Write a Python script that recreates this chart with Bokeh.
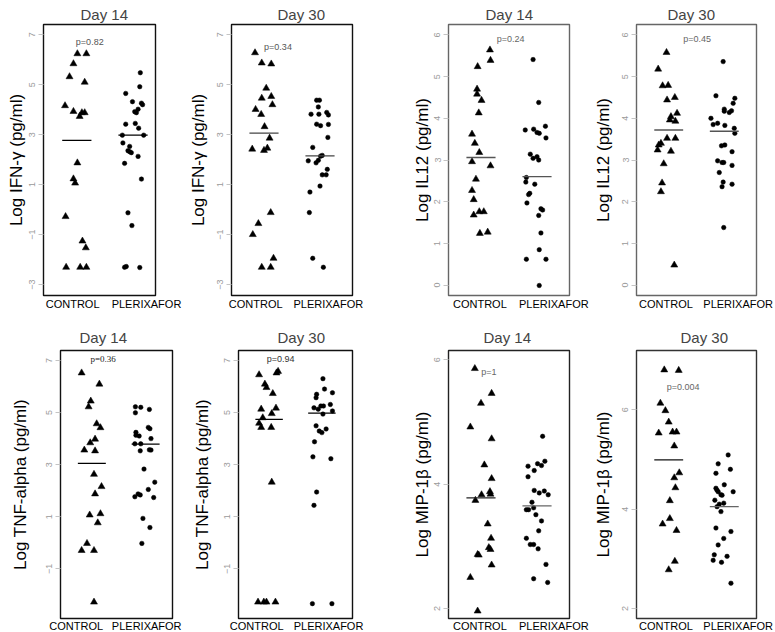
from bokeh.plotting import figure
from bokeh.layouts import row, column
from bokeh.models import Range1d, FixedTicker, CustomJSTickFormatter
from bokeh.embed import file_html
from bokeh.resources import INLINE
from bokeh.core.properties import value

GROUPS = ["CONTROL", "PLERIXAFOR"]

# ---- IFN-gamma, day 14
IFN14_CTRL = [6.24, 6.24, 5.84, 5.32, 5.10, 4.16, 3.93, 3.88, 3.88, 3.73, 1.87, 1.23, 1.06, -0.28, -1.26, -1.53, -2.31, -2.31, -2.31]
IFN14_CTRL_JIT = [0.01, 0.17, -0.06, -0.13, 0.14, -0.21, -0.06, 0.09, 0.14, 0.05, 0.01, -0.06, -0.03, -0.20, 0.10, 0.16, -0.19, 0.06, 0.17]
IFN14_PLX = [5.48, 4.92, 4.65, 4.32, 4.26, 4.20, 4.02, 3.92, 3.88, 3.45, 3.42, 3.26, 2.98, 2.98, 2.67, 2.53, 2.36, 2.32, 2.28, 2.13, 1.85, 1.22, -0.13, -0.64, -2.28, -2.31, -2.32]
IFN14_PLX_JIT = [0.13, 0.12, -0.13, -0.01, 0.15, 0.17, 0.09, 0.03, 0.06, 0.04, -0.13, 0.10, -0.19, 0.19, -0.18, -0.06, -0.09, -0.06, -0.03, 0.09, -0.15, 0.15, -0.09, -0.02, -0.12, -0.15, 0.12]
IFN14_MEANS = [2.77, 2.98]
IFN14_P = "p=0.82"

# ---- IFN-gamma, day 30
IFN30_CTRL = [6.28, 5.87, 5.83, 4.86, 4.46, 4.53, 4.01, 4.20, 3.81, 3.32, 2.86, 2.42, 2.37, 2.46, -0.12, -0.56, -1.00, -1.95, -2.31, -2.31]
IFN30_CTRL_JIT = [-0.16, -0.04, 0.13, 0.04, -0.04, 0.13, -0.15, 0.15, -0.05, 0.01, 0.10, -0.21, 0.00, 0.06, 0.12, -0.10, -0.20, 0.17, -0.04, 0.12]
IFN30_PLX = [4.38, 4.38, 4.11, 3.82, 3.82, 3.89, 3.79, 3.42, 3.36, 3.41, 2.89, 2.49, 1.95, 1.87, 1.97, 2.14, 2.17, 1.61, 1.39, 1.39, 0.94, 0.70, -0.12, -1.95, -2.31]
IFN30_PLX_JIT = [-0.06, -0.01, -0.03, -0.16, -0.02, 0.12, 0.15, -0.06, 0.01, 0.15, 0.14, -0.13, -0.21, -0.07, -0.03, 0.01, 0.04, 0.13, 0.04, 0.11, 0.00, -0.18, -0.19, -0.13, 0.06]
IFN30_MEANS = [3.06, 2.15]
IFN30_P = "p=0.34"

# ---- IL12, day 14
IL14_CTRL = [5.64, 5.39, 5.24, 4.70, 4.58, 4.43, 4.13, 3.62, 3.40, 3.18, 2.96, 2.86, 2.54, 2.27, 2.05, 1.68, 1.76, 1.76, 1.24, 1.27]
IL14_CTRL_JIT = [0.16, 0.17, -0.06, -0.07, -0.07, 0.01, -0.04, -0.16, -0.11, -0.03, -0.16, 0.17, -0.09, -0.16, -0.13, -0.13, -0.03, 0.05, -0.02, 0.12]
IL14_PLX = [5.41, 4.38, 3.72, 3.74, 3.66, 3.64, 3.81, 3.53, 3.14, 3.04, 3.08, 3.00, 2.58, 2.47, 2.42, 2.20, 2.17, 1.97, 1.83, 1.80, 1.67, 1.25, 0.85, 0.62, 0.62, -0.01]
IL14_PLX_JIT = [-0.07, 0.03, -0.21, -0.06, 0.00, 0.04, 0.15, 0.16, -0.12, -0.07, 0.00, 0.03, -0.19, -0.20, -0.04, -0.13, -0.15, -0.18, 0.07, 0.10, 0.03, 0.07, 0.04, -0.19, 0.16, 0.04]
IL14_MEANS = [3.06, 2.60]
IL14_P = "p=0.24"

# ---- IL12, day 30
IL30_CTRL = [5.58, 5.18, 4.78, 4.79, 4.44, 4.50, 4.12, 4.04, 3.96, 3.93, 3.52, 3.52, 3.40, 3.36, 3.24, 3.21, 2.91, 2.45, 2.24, 0.48]
IL30_CTRL_JIT = [-0.04, -0.19, -0.11, -0.01, -0.03, 0.11, 0.15, 0.04, 0.02, 0.12, -0.03, 0.12, -0.14, -0.18, -0.20, 0.04, -0.09, -0.12, -0.14, 0.10]
IL30_PLX = [5.36, 4.54, 4.48, 4.36, 4.22, 4.17, 4.14, 4.18, 4.00, 3.85, 3.88, 3.83, 3.76, 3.64, 3.34, 3.36, 3.20, 2.98, 2.94, 2.94, 2.87, 2.70, 2.47, 2.36, 2.42, 1.38]
IL30_PLX_JIT = [-0.02, -0.15, 0.19, 0.16, 0.00, 0.00, 0.09, 0.13, -0.24, -0.20, -0.12, 0.01, 0.18, 0.19, -0.05, 0.01, 0.14, -0.12, -0.04, -0.01, 0.14, -0.09, -0.02, -0.04, 0.14, -0.01]
IL30_MEANS = [3.72, 3.69]
IL30_P = "p=0.45"

# ---- TNF-alpha, day 14
TNF14_CTRL = [6.52, 6.09, 5.44, 5.22, 4.57, 4.42, 3.98, 3.84, 3.56, 3.53, 2.63, 2.16, 1.88, 1.07, 1.12, 0.77, -0.02, -0.29, -0.29, -2.27]
TNF14_CTRL_JIT = [-0.19, 0.14, -0.02, -0.06, 0.09, 0.16, 0.06, -0.03, -0.14, 0.06, 0.04, 0.18, 0.06, -0.04, 0.16, 0.11, -0.09, -0.19, 0.04, 0.04]
TNF14_PLX = [5.22, 5.20, 5.12, 4.99, 4.43, 4.38, 4.24, 4.13, 4.10, 4.00, 3.80, 3.80, 3.57, 3.53, 3.56, 2.83, 2.33, 2.05, 1.77, 1.88, 1.84, 1.74, 0.94, 0.59, -0.02]
TNF14_PLX_JIT = [-0.19, -0.09, 0.07, -0.19, 0.05, 0.08, -0.18, -0.18, -0.12, 0.10, -0.20, -0.09, 0.07, -0.10, 0.10, -0.03, 0.17, 0.05, -0.20, -0.14, -0.10, 0.15, -0.05, 0.08, -0.07]
TNF14_MEANS = [3.05, 3.79]
TNF14_P = "p=0.36"

# ---- TNF-alpha, day 30
TNF30_CTRL = [6.45, 6.52, 6.58, 6.09, 5.96, 5.73, 5.13, 5.17, 4.96, 4.80, 4.59, 4.43, 4.43, 2.33, -2.27, -2.27, -2.27, -2.27]
TNF30_CTRL_JIT = [-0.19, 0.14, 0.17, -0.08, -0.05, 0.07, -0.15, 0.13, 0.05, -0.12, -0.19, -0.15, 0.04, 0.05, -0.21, -0.10, -0.05, 0.12]
TNF30_PLX = [6.30, 5.70, 5.90, 5.76, 5.57, 5.18, 5.25, 5.25, 5.31, 5.13, 4.94, 5.06, 4.49, 4.29, 4.23, 4.37, 3.88, 3.30, 3.23, 1.95, 1.44, -2.33, -2.33]
TNF30_PLX_JIT = [0.02, -0.10, 0.05, 0.20, -0.11, -0.15, -0.02, 0.03, 0.16, -0.07, 0.02, 0.20, -0.11, -0.05, 0.00, 0.08, -0.14, -0.17, 0.17, -0.10, -0.15, -0.18, 0.19]
TNF30_MEANS = [4.74, 4.98]
TNF30_P = "p=0.94"

# ---- MIP-1beta, day 14
MIP14_CTRL = [5.86, 5.46, 5.30, 4.92, 4.73, 4.31, 4.09, 3.84, 3.88, 3.83, 3.74, 3.36, 3.13, 2.98, 2.95, 2.87, 2.86, 2.70, 2.50, 1.96]
MIP14_CTRL_JIT = [-0.11, 0.19, 0.00, -0.19, 0.19, 0.06, 0.19, 0.17, 0.16, 0.01, -0.10, 0.12, 0.18, 0.14, 0.17, -0.06, -0.04, 0.19, -0.19, -0.06]
MIP14_PLX = [4.77, 4.37, 4.29, 4.33, 4.30, 4.22, 4.12, 3.90, 3.86, 3.89, 3.83, 3.71, 3.59, 3.59, 3.62, 3.51, 3.41, 3.25, 3.13, 3.03, 3.03, 2.96, 2.71, 2.48, 2.42]
MIP14_PLX_JIT = [0.10, 0.14, -0.16, 0.01, 0.08, -0.05, -0.16, -0.05, 0.04, 0.13, 0.20, -0.09, -0.19, -0.15, -0.06, -0.02, 0.08, 0.03, -0.19, -0.12, -0.06, 0.02, 0.16, -0.06, 0.19]
MIP14_MEANS = [3.78, 3.65]
MIP14_P = "p=1"

# ---- MIP-1beta, day 30
MIP30_CTRL = [6.80, 6.79, 6.13, 5.98, 5.75, 5.53, 5.55, 5.55, 5.27, 4.73, 4.63, 4.43, 4.17, 3.81, 3.70, 3.57, 2.95, 2.78]
MIP30_CTRL_JIT = [-0.08, 0.18, -0.15, -0.06, 0.00, -0.18, 0.07, 0.14, 0.10, 0.19, 0.10, 0.12, 0.02, 0.02, -0.11, 0.14, 0.11, 0.00]
MIP30_PLX = [5.09, 4.91, 4.80, 4.72, 4.49, 4.42, 4.38, 4.35, 4.35, 4.29, 4.28, 4.18, 4.12, 4.10, 4.05, 3.95, 3.62, 3.55, 3.41, 3.28, 3.08, 2.97, 3.05, 2.93, 2.51]
MIP30_PLX_JIT = [0.07, -0.11, 0.11, -0.15, 0.00, -0.15, -0.13, -0.11, 0.16, -0.06, -0.04, -0.17, -0.01, -0.09, -0.13, -0.06, -0.15, 0.12, -0.01, -0.11, -0.18, -0.20, 0.05, -0.05, 0.12]
MIP30_MEANS = [4.99, 4.05]
MIP30_P = "p=0.004"

FONT = "Liberation Sans"

PANELS = [
    # top row
    dict(title="Day 14", ylabel="Log IFN-γ (pg/ml)", c=IFN14_CTRL, cj=IFN14_CTRL_JIT, q=IFN14_PLX, qj=IFN14_PLX_JIT,
         m=IFN14_MEANS, pv=IFN14_P, pxy=(1.23, 6.71), yr=(-3.44, 7.41), yt=[-3, -1, 1, 3, 5, 7],
         xr=(0.407, 2.40), xl=[0.925, 2.24], fw=112, bl=43, br=30, als=1, toff=37,
         box="#111111", mc=["black", "black"], pc="#555555", pfont=FONT),
    dict(title="Day 30", ylabel="Log IFN-γ (pg/ml)", c=IFN30_CTRL, cj=IFN30_CTRL_JIT, q=IFN30_PLX, qj=IFN30_PLX_JIT,
         m=IFN30_MEANS, pv=IFN30_P, pxy=(1.25, 6.51), yr=(-3.44, 7.41), yt=[-3, -1, 1, 3, 5, 7],
         xr=(0.42, 2.58), xl=[0.852, 2.148], fw=121, bl=46, br=20, als=7, toff=46,
         box="#111111", mc=["#444444", "#444444"], pc="#555555", pfont=FONT),
    dict(title="Day 14", ylabel="Log IL12 (pg/ml)", c=IL14_CTRL, cj=IL14_CTRL_JIT, q=IL14_PLX, qj=IL14_PLX_JIT,
         m=IL14_MEANS, pv=IL14_P, pxy=(1.53, 5.90), yr=(-0.25, 6.25), yt=[0, 1, 2, 3, 4, 5, 6],
         xr=(0.42, 2.58), xl=[0.98, 2.30], fw=121, bl=76, br=21, als=0, toff=37,
         box="#666666", mc=["#555555", "#555555"], pc="#666666", pfont=FONT),
    dict(title="Day 30", ylabel="Log IL12 (pg/ml)", c=IL30_CTRL, cj=IL30_CTRL_JIT, q=IL30_PLX, qj=IL30_PLX_JIT,
         m=IL30_MEANS, pv=IL30_P, pxy=(1.51, 5.90), yr=(-0.25, 6.25), yt=[0, 1, 2, 3, 4, 5, 6],
         xr=(0.42, 2.58), xl=[0.95, 2.25], fw=120, bl=46, br=19, als=7, toff=31,
         box="#666666", mc=["#555555", "#555555"], pc="#666666", pfont=FONT),
    # bottom row
    dict(title="Day 14", ylabel="Log TNF-alpha (pg/ml)", c=TNF14_CTRL, cj=TNF14_CTRL_JIT, q=TNF14_PLX, qj=TNF14_PLX_JIT,
         m=TNF14_MEANS, pv=TNF14_P, pxy=(1.21, 7.04), yr=(-2.90, 7.38), yt=[-3, -1, 1, 3, 5, 7],
         xr=(0.417, 2.50), xl=[0.709, 2.02], fw=112, bl=60, br=13, als=14, toff=19,
         box="#111111", mc=["black", "black"], pc="#222222", pfont="Liberation Serif"),
    dict(title="Day 30", ylabel="Log TNF-alpha (pg/ml)", c=TNF30_CTRL, cj=TNF30_CTRL_JIT, q=TNF30_PLX, qj=TNF30_PLX_JIT,
         m=TNF30_MEANS, pv=TNF30_P, pxy=(1.22, 7.04), yr=(-2.90, 7.38), yt=[-3, -1, 1, 3, 5, 7],
         xr=(0.42, 2.58), xl=[0.766, 2.126], fw=114, bl=53, br=20, als=10, toff=39,
         box="#111111", mc=["black", "black"], pc="#333333", pfont=FONT),
    dict(title="Day 14", ylabel="Log MIP-1β (pg/ml)", c=MIP14_CTRL, cj=MIP14_CTRL_JIT, q=MIP14_PLX, qj=MIP14_PLX_JIT,
         m=MIP14_MEANS, pv=MIP14_P, pxy=(1.14, 5.81), yr=(1.84, 6.15), yt=[2, 4, 6],
         xr=(0.42, 2.58), xl=[0.98, 2.30], fw=121, bl=76, br=21, als=0, toff=35,
         box="#222222", mc=["#222222", "#666666"], pc="#666666", pfont=FONT),
    dict(title="Day 30", ylabel="Log MIP-1β (pg/ml)", c=MIP30_CTRL, cj=MIP30_CTRL_JIT, q=MIP30_PLX, qj=MIP30_PLX_JIT,
         m=MIP30_MEANS, pv=MIP30_P, pxy=(1.26, 6.45), yr=(1.80, 7.19), yt=[2, 4, 6],
         xr=(0.42, 2.58), xl=[0.95, 2.25], fw=120, bl=46, br=19, als=7, toff=44,
         box="#333333", mc=["#111111", "#666666"], pc="#666666", pfont=FONT),
]

ROWS = [
    dict(fh=271, bt=24, bb=18, lso=2, tva="top", tso=0),
    dict(fh=268, bt=37, bb=14, lso=1, tva="bottom", tso=10),
]

HALF = 0.26


def make_panel(cfg, rcfg):
    p = figure(frame_width=cfg["fw"], frame_height=rcfg["fh"],
               min_border_left=cfg["bl"], min_border_right=cfg["br"],
               min_border_top=rcfg["bt"], min_border_bottom=rcfg["bb"],
               x_range=Range1d(*cfg["xr"]), y_range=Range1d(*cfg["yr"]),
               output_backend="svg", toolbar_location=None, tools="")
    p.title.text = cfg["title"]
    p.title.text_font = FONT
    p.title.text_font_size = "15px"
    p.title.text_font_style = "normal"
    p.title.align = "left"
    p.title.offset = cfg["toff"]
    p.title.vertical_align = rcfg["tva"]
    p.title.standoff = rcfg["tso"]
    p.grid.visible = False
    p.background_fill_color = "white"
    p.border_fill_color = "white"
    p.outline_line_color = cfg["box"]
    p.outline_line_width = 1.4
    p.outline_line_alpha = 1.0

    # y axis
    ya = p.yaxis[0]
    ya.ticker = FixedTicker(ticks=cfg["yt"])
    ya.axis_line_color = None
    ya.major_tick_out = 5
    ya.major_tick_in = 0
    ya.minor_tick_line_color = None
    ya.major_tick_line_color = "#c4c4c4"
    ya.major_label_orientation = "vertical"
    ya.major_label_text_font = FONT
    ya.major_label_text_font_size = "9px"
    ya.major_label_text_color = "#9a9a9a"
    ya.major_label_standoff = 3
    ya.axis_label = cfg["ylabel"]
    ya.axis_label_text_font = FONT
    ya.axis_label_text_font_size = "17px"
    ya.axis_label_text_font_style = "normal"
    ya.axis_label_text_color = "black"
    ya.axis_label_standoff = cfg["als"]

    # x axis
    xa = p.xaxis[0]
    xa.ticker = FixedTicker(ticks=cfg["xl"])
    xa.formatter = CustomJSTickFormatter(args=dict(names=GROUPS), code="return names[index];")
    xa.axis_line_color = None
    xa.major_tick_line_color = None
    xa.minor_tick_line_color = None
    xa.major_tick_out = 0
    xa.major_tick_in = 0
    xa.major_label_standoff = rcfg["lso"]
    xa.major_label_text_font = FONT
    xa.major_label_text_font_size = "11px"
    xa.major_label_text_color = "black"

    # points
    cx = [1 + j for j in cfg["cj"]]
    qx = [2 + j for j in cfg["qj"]]
    p.scatter(cx, cfg["c"], marker="triangle", size=7, fill_color="black", line_color="black", line_width=0.5)
    p.scatter(qx, cfg["q"], marker="circle", size=4.5, fill_color="black", line_color="black", line_width=0.5)

    # mean lines
    p.segment(x0=[1 - HALF, 2 - HALF], y0=cfg["m"], x1=[1 + HALF, 2 + HALF], y1=cfg["m"],
              line_color=cfg["mc"], line_width=1.3)

    # p-value
    p.text(x=[cfg["pxy"][0]], y=[cfg["pxy"][1]], text=[cfg["pv"]], text_font=value(cfg["pfont"]),
           text_font_size="9px", text_color=cfg["pc"], text_align="center", text_baseline="middle")
    return p


figs = [make_panel(cfg, ROWS[i // 4]) for i, cfg in enumerate(PANELS)]
layout = column(row(*figs[:4], spacing=0), row(*figs[4:], spacing=0), spacing=0)

open("out.html", "w").write(file_html(layout, INLINE))
